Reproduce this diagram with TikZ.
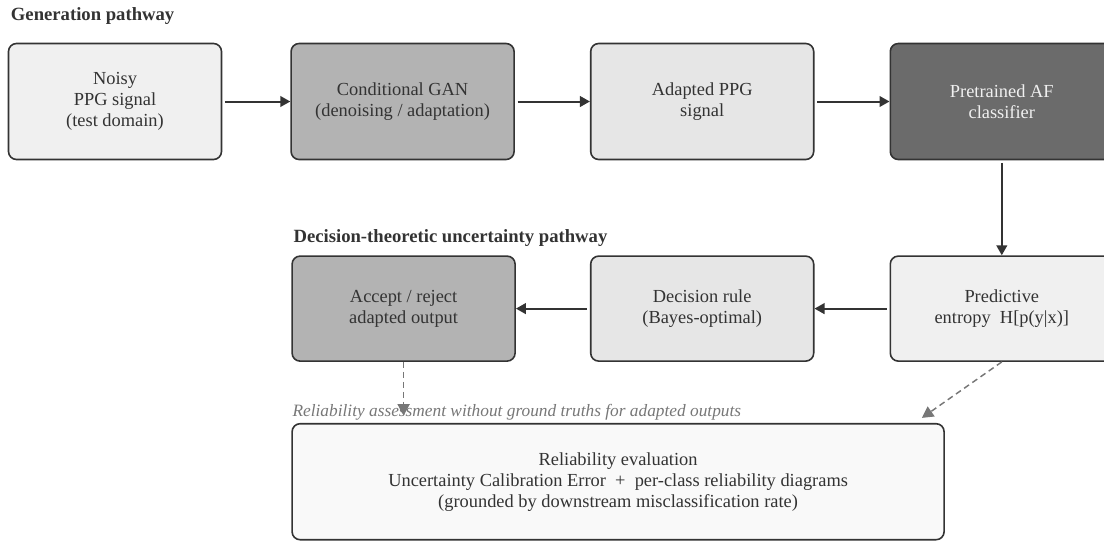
\documentclass[tikz,border=0pt]{standalone}
\usepackage{fontspec}
\setmainfont{Liberation Serif}
\usetikzlibrary{arrows.meta,positioning,calc}
\definecolor{linegray}{HTML}{333333}
\definecolor{textgray}{HTML}{333333}
\definecolor{dashgray}{HTML}{777777}
\definecolor{fillpale}{HTML}{F0F0F0}
\definecolor{filllight}{HTML}{E6E6E6}
\definecolor{fillmid}{HTML}{B3B3B3}
\definecolor{filldark}{HTML}{6B6B6B}
\definecolor{fillwhite}{HTML}{F9F9F9}
\tikzset{
    stage/.style={
        rectangle,
        rounded corners=6pt,
        draw=linegray,
        line width=1.2pt,
        text=textgray,
        align=center,
        minimum width=167.25pt,
        minimum height=87pt,
        font=\fontsize{13.8}{15.75}\selectfont,
    },
    lower/.style={
        stage,
        minimum height=78.75pt,
    },
    heading/.style={
        text=textgray,
        inner sep=0pt,
        font=\fontsize{14}{16}\selectfont\bfseries,
    },
    note/.style={
        text=dashgray,
        inner sep=0pt,
        font=\fontsize{13}{15}\selectfont\itshape,
    },
    dashflow/.style={
        draw=dashgray,
        line width=1.1pt,
        dash pattern=on 4.5pt off 3pt,
        -{Triangle[length=8.5pt,width=9pt]},
        dashgray,
    },
    every edge/.style={
        draw=linegray,
        line width=1.5pt,
        -{Triangle[length=7.5pt,width=8pt]},
        shorten <=2pt,
    },
}

\begin{document}
\begin{tikzpicture}[x=0.75pt,y=-0.75pt]
    \useasboundingbox (0,0) rectangle (1104,544);

    % Nodes and position definitions
    \node [stage, fill=fillpale, minimum width=159.75pt] (noisy) at (115,101.5) {Noisy\\PPG signal\\(test domain)};
    \node [stage, fill=fillmid] (gan) [right=51pt of noisy] {Conditional GAN\\(denoising / adaptation)};
    \node [stage, fill=filllight] (adapted) [right=56.25pt of gan] {Adapted PPG\\signal};
    \node [stage, fill=filldark, text=fillpale] (classifier) [right=56.25pt of adapted] {Pretrained AF\\classifier};

    \node [lower, fill=fillpale] (entropy) [below=71.25pt of classifier] {Predictive\\entropy\ \ H[p(y|x)]};
    \node [lower, fill=filllight] (rule) [left=56.25pt of entropy] {Decision rule\\(Bayes-optimal)};
    \node [lower, fill=fillmid] (accept) [left=55.5pt of rule] {Accept / reject\\adapted output};

    \node [stage, fill=fillwhite, minimum width=489pt, anchor=north west] (evaluation)
        at ($(accept.south west)+(0,61)$)
        {Reliability evaluation\\Uncertainty Calibration Error\ \ +\ \ per-class reliability diagrams\\(grounded by downstream misclassification rate)};

    \node [heading, anchor=base west] (gentitle) at ($(noisy.north west)+(3,-22)$) {Generation pathway};
    \node [heading, anchor=base west] (dectitle) at ($(accept.north west)+(2,-13)$) {Decision-theoretic uncertainty pathway};
    \node [note, anchor=base west] (nolabel) at ($(evaluation.north west)+(1,-6)$) {Reliability assessment without ground truths for adapted outputs};

    % Vertex definitions
    \path (noisy) edge (gan);
    \path (gan) edge (adapted);
    \path (adapted) edge (classifier);
    \path (classifier) edge (entropy);
    \path (entropy) edge (rule);
    \path (rule) edge (accept);
    \draw [dashflow, shorten >=5.5pt] (accept) -- (accept |- evaluation.north);
    \draw [dashflow] (entropy.south) -- ($(evaluation.north east)+(-23,-5)$);
\end{tikzpicture}
\end{document}
